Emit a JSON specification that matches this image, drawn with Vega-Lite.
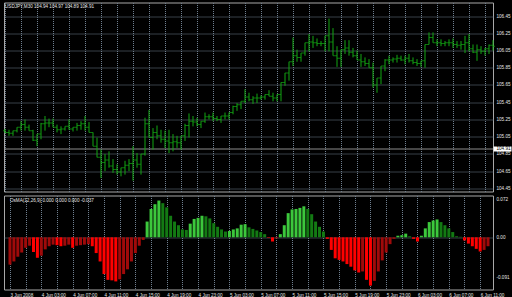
{
 "$schema": "https://vega.github.io/schema/vega-lite/v6.json",
 "background": "#000000",
 "padding": {"left": 2, "top": 1.5, "right": 0, "bottom": 0},
 "spacing": 2,
 "config": {
  "font": "Liberation Sans",
  "view": {"stroke": "#a8a8a8", "strokeWidth": 1},
  "axis": {"labelFont": "Liberation Sans", "labelFontSize": 4.6, "labelColor": "#e6e6e6", "domain": false, "ticks": false, "title": null, "gridColor": "#6f7f8f", "gridDash": [1, 1], "gridWidth": 1, "labelOverlap": false, "labelBound": false, "labelFlush": false, "tickCount": 1000}
 },
 "data": {"values": [
  {"t":"2008-06-03T23:00Z","o":105.12,"h":105.14,"l":105.09,"c":105.10,"v":-0.052,"s":"neg_rise"},
  {"t":"2008-06-03T23:30Z","o":105.10,"h":105.13,"l":105.06,"c":105.09,"v":-0.046,"s":"neg_rise"},
  {"t":"2008-06-04T00:00Z","o":105.09,"h":105.12,"l":105.06,"c":105.12,"v":-0.037,"s":"neg_rise"},
  {"t":"2008-06-04T00:30Z","o":105.12,"h":105.16,"l":105.10,"c":105.16,"v":-0.029,"s":"neg_rise"},
  {"t":"2008-06-04T01:00Z","o":105.16,"h":105.23,"l":105.12,"c":105.19,"v":-0.020,"s":"neg_rise"},
  {"t":"2008-06-04T01:30Z","o":105.19,"h":105.25,"l":105.12,"c":105.16,"v":-0.016,"s":"neg_rise"},
  {"t":"2008-06-04T02:00Z","o":105.16,"h":105.19,"l":105.12,"c":105.12,"v":-0.028,"s":"neg_fall"},
  {"t":"2008-06-04T02:30Z","o":105.12,"h":105.13,"l":105.00,"c":105.01,"v":-0.039,"s":"neg_fall"},
  {"t":"2008-06-04T03:00Z","o":105.01,"h":105.08,"l":104.94,"c":105.08,"v":-0.035,"s":"neg_rise"},
  {"t":"2008-06-04T03:30Z","o":105.08,"h":105.21,"l":105.02,"c":105.20,"v":-0.023,"s":"neg_rise"},
  {"t":"2008-06-04T04:00Z","o":105.20,"h":105.29,"l":105.12,"c":105.21,"v":-0.017,"s":"neg_rise"},
  {"t":"2008-06-04T04:30Z","o":105.21,"h":105.26,"l":105.16,"c":105.21,"v":-0.014,"s":"neg_rise"},
  {"t":"2008-06-04T05:00Z","o":105.21,"h":105.26,"l":105.16,"c":105.16,"v":-0.015,"s":"neg_fall"},
  {"t":"2008-06-04T05:30Z","o":105.16,"h":105.19,"l":105.10,"c":105.13,"v":-0.017,"s":"neg_fall"},
  {"t":"2008-06-04T06:00Z","o":105.13,"h":105.17,"l":105.08,"c":105.14,"v":-0.016,"s":"neg_rise"},
  {"t":"2008-06-04T06:30Z","o":105.14,"h":105.17,"l":105.12,"c":105.17,"v":-0.014,"s":"neg_rise"},
  {"t":"2008-06-04T07:00Z","o":105.17,"h":105.25,"l":105.13,"c":105.14,"v":-0.020,"s":"neg_fall"},
  {"t":"2008-06-04T07:30Z","o":105.14,"h":105.16,"l":105.11,"c":105.16,"v":-0.016,"s":"neg_rise"},
  {"t":"2008-06-04T08:00Z","o":105.16,"h":105.21,"l":105.12,"c":105.18,"v":-0.015,"s":"neg_rise"},
  {"t":"2008-06-04T08:30Z","o":105.18,"h":105.23,"l":105.13,"c":105.20,"v":-0.014,"s":"neg_rise"},
  {"t":"2008-06-04T09:00Z","o":105.20,"h":105.29,"l":105.12,"c":105.16,"v":-0.013,"s":"neg_rise"},
  {"t":"2008-06-04T09:30Z","o":105.16,"h":105.22,"l":105.10,"c":105.10,"v":-0.017,"s":"neg_fall"},
  {"t":"2008-06-04T10:00Z","o":105.10,"h":105.10,"l":104.94,"c":104.94,"v":-0.030,"s":"neg_fall"},
  {"t":"2008-06-04T10:30Z","o":104.94,"h":105.04,"l":104.81,"c":104.81,"v":-0.046,"s":"neg_fall"},
  {"t":"2008-06-04T11:00Z","o":104.81,"h":104.90,"l":104.57,"c":104.75,"v":-0.070,"s":"neg_fall"},
  {"t":"2008-06-04T11:30Z","o":104.75,"h":104.85,"l":104.65,"c":104.78,"v":-0.081,"s":"neg_fall"},
  {"t":"2008-06-04T12:00Z","o":104.78,"h":104.88,"l":104.69,"c":104.71,"v":-0.082,"s":"neg_fall"},
  {"t":"2008-06-04T12:30Z","o":104.71,"h":104.79,"l":104.63,"c":104.67,"v":-0.084,"s":"neg_fall"},
  {"t":"2008-06-04T13:00Z","o":104.67,"h":104.73,"l":104.61,"c":104.64,"v":-0.080,"s":"neg_rise"},
  {"t":"2008-06-04T13:30Z","o":104.64,"h":104.69,"l":104.59,"c":104.69,"v":-0.070,"s":"neg_rise"},
  {"t":"2008-06-04T14:00Z","o":104.69,"h":104.77,"l":104.61,"c":104.72,"v":-0.061,"s":"neg_rise"},
  {"t":"2008-06-04T14:30Z","o":104.72,"h":104.79,"l":104.65,"c":104.74,"v":-0.046,"s":"neg_rise"},
  {"t":"2008-06-04T15:00Z","o":104.74,"h":104.94,"l":104.54,"c":104.78,"v":-0.030,"s":"neg_rise"},
  {"t":"2008-06-04T15:30Z","o":104.78,"h":104.86,"l":104.69,"c":104.73,"v":-0.016,"s":"neg_rise"},
  {"t":"2008-06-04T16:00Z","o":104.73,"h":104.85,"l":104.61,"c":104.85,"v":-0.005,"s":"neg_rise"},
  {"t":"2008-06-04T16:30Z","o":104.85,"h":105.27,"l":104.83,"c":105.20,"v":0.030,"s":"pos_rise"},
  {"t":"2008-06-04T17:00Z","o":105.20,"h":105.36,"l":105.04,"c":105.04,"v":0.054,"s":"pos_rise"},
  {"t":"2008-06-04T17:30Z","o":105.04,"h":105.15,"l":104.90,"c":105.10,"v":0.063,"s":"pos_rise"},
  {"t":"2008-06-04T18:00Z","o":105.10,"h":105.18,"l":105.02,"c":105.06,"v":0.070,"s":"pos_rise"},
  {"t":"2008-06-04T18:30Z","o":105.06,"h":105.13,"l":104.98,"c":105.02,"v":0.065,"s":"pos_fall"},
  {"t":"2008-06-04T19:00Z","o":105.02,"h":105.12,"l":104.92,"c":105.00,"v":0.057,"s":"pos_fall"},
  {"t":"2008-06-04T19:30Z","o":105.00,"h":105.13,"l":104.86,"c":104.98,"v":0.041,"s":"pos_fall"},
  {"t":"2008-06-04T20:00Z","o":104.98,"h":105.08,"l":104.88,"c":104.99,"v":0.030,"s":"pos_fall"},
  {"t":"2008-06-04T20:30Z","o":104.99,"h":105.06,"l":104.92,"c":104.98,"v":0.023,"s":"pos_fall"},
  {"t":"2008-06-04T21:00Z","o":104.98,"h":105.06,"l":104.90,"c":105.06,"v":0.015,"s":"pos_fall"},
  {"t":"2008-06-04T21:30Z","o":105.06,"h":105.20,"l":105.00,"c":105.18,"v":0.014,"s":"pos_fall"},
  {"t":"2008-06-04T22:00Z","o":105.18,"h":105.32,"l":105.04,"c":105.23,"v":0.026,"s":"pos_rise"},
  {"t":"2008-06-04T22:30Z","o":105.23,"h":105.29,"l":105.17,"c":105.22,"v":0.035,"s":"pos_rise"},
  {"t":"2008-06-04T23:00Z","o":105.22,"h":105.27,"l":105.17,"c":105.19,"v":0.037,"s":"pos_rise"},
  {"t":"2008-06-04T23:30Z","o":105.19,"h":105.23,"l":105.15,"c":105.23,"v":0.041,"s":"pos_rise"},
  {"t":"2008-06-05T00:00Z","o":105.23,"h":105.33,"l":105.21,"c":105.28,"v":0.040,"s":"pos_fall"},
  {"t":"2008-06-05T00:30Z","o":105.28,"h":105.31,"l":105.25,"c":105.28,"v":0.036,"s":"pos_fall"},
  {"t":"2008-06-05T01:00Z","o":105.28,"h":105.33,"l":105.23,"c":105.26,"v":0.027,"s":"pos_fall"},
  {"t":"2008-06-05T01:30Z","o":105.26,"h":105.29,"l":105.23,"c":105.25,"v":0.020,"s":"pos_fall"},
  {"t":"2008-06-05T02:00Z","o":105.25,"h":105.29,"l":105.21,"c":105.29,"v":0.015,"s":"pos_fall"},
  {"t":"2008-06-05T02:30Z","o":105.29,"h":105.33,"l":105.25,"c":105.29,"v":0.011,"s":"pos_fall"},
  {"t":"2008-06-05T03:00Z","o":105.29,"h":105.33,"l":105.25,"c":105.33,"v":0.012,"s":"pos_rise"},
  {"t":"2008-06-05T03:30Z","o":105.33,"h":105.41,"l":105.31,"c":105.40,"v":0.015,"s":"pos_rise"},
  {"t":"2008-06-05T04:00Z","o":105.40,"h":105.44,"l":105.35,"c":105.42,"v":0.017,"s":"pos_rise"},
  {"t":"2008-06-05T04:30Z","o":105.42,"h":105.46,"l":105.37,"c":105.46,"v":0.024,"s":"pos_rise"},
  {"t":"2008-06-05T05:00Z","o":105.46,"h":105.60,"l":105.44,"c":105.51,"v":0.025,"s":"pos_rise"},
  {"t":"2008-06-05T05:30Z","o":105.51,"h":105.56,"l":105.46,"c":105.48,"v":0.019,"s":"pos_fall"},
  {"t":"2008-06-05T06:00Z","o":105.48,"h":105.52,"l":105.43,"c":105.50,"v":0.016,"s":"pos_fall"},
  {"t":"2008-06-05T06:30Z","o":105.50,"h":105.55,"l":105.44,"c":105.50,"v":0.013,"s":"pos_fall"},
  {"t":"2008-06-05T07:00Z","o":105.50,"h":105.53,"l":105.48,"c":105.51,"v":0.010,"s":"pos_fall"},
  {"t":"2008-06-05T07:30Z","o":105.51,"h":105.54,"l":105.48,"c":105.54,"v":0.006,"s":"pos_fall"},
  {"t":"2008-06-05T08:00Z","o":105.54,"h":105.59,"l":105.52,"c":105.52,"v":-0.001,"s":"neg_fall"},
  {"t":"2008-06-05T08:30Z","o":105.52,"h":105.56,"l":105.46,"c":105.50,"v":-0.008,"s":"neg_fall"},
  {"t":"2008-06-05T09:00Z","o":105.50,"h":105.54,"l":105.46,"c":105.54,"v":-0.002,"s":"neg_rise"},
  {"t":"2008-06-05T09:30Z","o":105.54,"h":105.68,"l":105.46,"c":105.68,"v":0.006,"s":"pos_rise"},
  {"t":"2008-06-05T10:00Z","o":105.68,"h":105.79,"l":105.64,"c":105.79,"v":0.023,"s":"pos_rise"},
  {"t":"2008-06-05T10:30Z","o":105.79,"h":105.92,"l":105.70,"c":105.92,"v":0.046,"s":"pos_rise"},
  {"t":"2008-06-05T11:00Z","o":105.92,"h":106.20,"l":105.87,"c":105.99,"v":0.053,"s":"pos_rise"},
  {"t":"2008-06-05T11:30Z","o":105.99,"h":106.06,"l":105.92,"c":105.97,"v":0.054,"s":"pos_rise"},
  {"t":"2008-06-05T12:00Z","o":105.97,"h":106.02,"l":105.92,"c":106.02,"v":0.056,"s":"pos_rise"},
  {"t":"2008-06-05T12:30Z","o":106.02,"h":106.14,"l":105.99,"c":106.14,"v":0.059,"s":"pos_rise"},
  {"t":"2008-06-05T13:00Z","o":106.14,"h":106.24,"l":106.04,"c":106.15,"v":0.054,"s":"pos_fall"},
  {"t":"2008-06-05T13:30Z","o":106.15,"h":106.22,"l":106.08,"c":106.14,"v":0.044,"s":"pos_fall"},
  {"t":"2008-06-05T14:00Z","o":106.14,"h":106.19,"l":106.10,"c":106.13,"v":0.030,"s":"pos_fall"},
  {"t":"2008-06-05T14:30Z","o":106.13,"h":106.16,"l":106.10,"c":106.13,"v":0.020,"s":"pos_fall"},
  {"t":"2008-06-05T15:00Z","o":106.13,"h":106.22,"l":106.04,"c":106.22,"v":0.011,"s":"pos_fall"},
  {"t":"2008-06-05T15:30Z","o":106.22,"h":106.42,"l":106.04,"c":106.15,"v":-0.003,"s":"neg_fall"},
  {"t":"2008-06-05T16:00Z","o":106.15,"h":106.31,"l":105.99,"c":105.99,"v":-0.024,"s":"neg_fall"},
  {"t":"2008-06-05T16:30Z","o":105.99,"h":106.10,"l":105.86,"c":105.96,"v":-0.040,"s":"neg_fall"},
  {"t":"2008-06-05T17:00Z","o":105.96,"h":106.06,"l":105.86,"c":106.06,"v":-0.043,"s":"neg_fall"},
  {"t":"2008-06-05T17:30Z","o":106.06,"h":106.17,"l":106.01,"c":106.08,"v":-0.046,"s":"neg_fall"},
  {"t":"2008-06-05T18:00Z","o":106.08,"h":106.17,"l":105.99,"c":106.03,"v":-0.051,"s":"neg_fall"},
  {"t":"2008-06-05T18:30Z","o":106.03,"h":106.08,"l":105.97,"c":105.99,"v":-0.056,"s":"neg_fall"},
  {"t":"2008-06-05T19:00Z","o":105.99,"h":106.05,"l":105.94,"c":105.94,"v":-0.063,"s":"neg_fall"},
  {"t":"2008-06-05T19:30Z","o":105.94,"h":106.01,"l":105.86,"c":105.92,"v":-0.067,"s":"neg_fall"},
  {"t":"2008-06-05T20:00Z","o":105.92,"h":105.97,"l":105.87,"c":105.90,"v":-0.065,"s":"neg_rise"},
  {"t":"2008-06-05T20:30Z","o":105.90,"h":105.95,"l":105.85,"c":105.85,"v":-0.081,"s":"neg_fall"},
  {"t":"2008-06-05T21:00Z","o":105.85,"h":105.91,"l":105.62,"c":105.65,"v":-0.092,"s":"neg_fall"},
  {"t":"2008-06-05T21:30Z","o":105.65,"h":105.73,"l":105.56,"c":105.73,"v":-0.083,"s":"neg_rise"},
  {"t":"2008-06-05T22:00Z","o":105.73,"h":105.87,"l":105.66,"c":105.87,"v":-0.065,"s":"neg_rise"},
  {"t":"2008-06-05T22:30Z","o":105.87,"h":105.95,"l":105.81,"c":105.94,"v":-0.044,"s":"neg_rise"},
  {"t":"2008-06-05T23:00Z","o":105.94,"h":105.99,"l":105.89,"c":105.94,"v":-0.029,"s":"neg_rise"},
  {"t":"2008-06-05T23:30Z","o":105.94,"h":105.97,"l":105.91,"c":105.95,"v":-0.013,"s":"neg_rise"},
  {"t":"2008-06-06T00:00Z","o":105.95,"h":106.00,"l":105.91,"c":105.96,"v":-0.003,"s":"neg_rise"},
  {"t":"2008-06-06T00:30Z","o":105.96,"h":105.99,"l":105.93,"c":105.94,"v":0.003,"s":"pos_rise"},
  {"t":"2008-06-06T01:00Z","o":105.94,"h":105.99,"l":105.89,"c":105.96,"v":0.004,"s":"pos_rise"},
  {"t":"2008-06-06T01:30Z","o":105.96,"h":106.01,"l":105.91,"c":105.93,"v":0.007,"s":"pos_rise"},
  {"t":"2008-06-06T02:00Z","o":105.93,"h":105.97,"l":105.89,"c":105.91,"v":0.002,"s":"pos_fall"},
  {"t":"2008-06-06T02:30Z","o":105.91,"h":105.95,"l":105.87,"c":105.90,"v":-0.003,"s":"neg_fall"},
  {"t":"2008-06-06T03:00Z","o":105.90,"h":105.93,"l":105.86,"c":105.93,"v":-0.008,"s":"neg_fall"},
  {"t":"2008-06-06T03:30Z","o":105.93,"h":106.12,"l":105.85,"c":106.12,"v":0.003,"s":"pos_rise"},
  {"t":"2008-06-06T04:00Z","o":106.12,"h":106.26,"l":106.12,"c":106.20,"v":0.017,"s":"pos_rise"},
  {"t":"2008-06-06T04:30Z","o":106.20,"h":106.26,"l":106.14,"c":106.14,"v":0.029,"s":"pos_rise"},
  {"t":"2008-06-06T05:00Z","o":106.14,"h":106.18,"l":106.10,"c":106.14,"v":0.032,"s":"pos_rise"},
  {"t":"2008-06-06T05:30Z","o":106.14,"h":106.18,"l":106.10,"c":106.13,"v":0.034,"s":"pos_rise"},
  {"t":"2008-06-06T06:00Z","o":106.13,"h":106.16,"l":106.10,"c":106.14,"v":0.029,"s":"pos_fall"},
  {"t":"2008-06-06T06:30Z","o":106.14,"h":106.18,"l":106.10,"c":106.14,"v":0.023,"s":"pos_fall"},
  {"t":"2008-06-06T07:00Z","o":106.14,"h":106.19,"l":106.08,"c":106.12,"v":0.017,"s":"pos_fall"},
  {"t":"2008-06-06T07:30Z","o":106.12,"h":106.16,"l":106.08,"c":106.11,"v":0.010,"s":"pos_fall"},
  {"t":"2008-06-06T08:00Z","o":106.11,"h":106.16,"l":106.06,"c":106.12,"v":0.002,"s":"pos_fall"},
  {"t":"2008-06-06T08:30Z","o":106.12,"h":106.22,"l":106.02,"c":106.14,"v":0.001,"s":"pos_fall"},
  {"t":"2008-06-06T09:00Z","o":106.14,"h":106.24,"l":106.04,"c":106.07,"v":-0.006,"s":"neg_fall"},
  {"t":"2008-06-06T09:30Z","o":106.07,"h":106.12,"l":106.02,"c":106.03,"v":-0.012,"s":"neg_fall"},
  {"t":"2008-06-06T10:00Z","o":106.03,"h":106.12,"l":105.93,"c":106.06,"v":-0.017,"s":"neg_fall"},
  {"t":"2008-06-06T10:30Z","o":106.06,"h":106.10,"l":106.01,"c":106.04,"v":-0.022,"s":"neg_fall"},
  {"t":"2008-06-06T11:00Z","o":106.04,"h":106.08,"l":105.99,"c":106.07,"v":-0.027,"s":"neg_fall"},
  {"t":"2008-06-06T11:30Z","o":106.07,"h":106.12,"l":106.01,"c":106.11,"v":-0.024,"s":"neg_rise"},
  {"t":"2008-06-06T12:00Z","o":106.11,"h":106.17,"l":106.05,"c":106.10,"v":-0.017,"s":"neg_rise"}
 ]},
 "vconcat": [
  {
   "width": 489,
   "height": 189,
   "layer": [
    {
     "mark": {"type": "rule", "color": "#12a612", "strokeWidth": 1},
     "encoding": {
      "x": {"field": "t", "type": "temporal",
       "scale": {"type": "utc", "domain": [{"year": 2008, "month": 6, "date": 3, "hours": 22, "minutes": 52, "seconds": 30, "utc": true}, {"year": 2008, "month": 6, "date": 6, "hours": 12, "utc": true}]},
       "axis": {"grid": true, "labels": false, "ticks": false, "domain": false, "tickCount": 1000,
        "values": [
         {"year":2008,"month":6,"date":3,"hours":23,"utc":true},
         {"year":2008,"month":6,"date":4,"hours":1,"utc":true},{"year":2008,"month":6,"date":4,"hours":3,"utc":true},{"year":2008,"month":6,"date":4,"hours":5,"utc":true},{"year":2008,"month":6,"date":4,"hours":7,"utc":true},{"year":2008,"month":6,"date":4,"hours":9,"utc":true},{"year":2008,"month":6,"date":4,"hours":11,"utc":true},{"year":2008,"month":6,"date":4,"hours":13,"utc":true},{"year":2008,"month":6,"date":4,"hours":15,"utc":true},{"year":2008,"month":6,"date":4,"hours":17,"utc":true},{"year":2008,"month":6,"date":4,"hours":19,"utc":true},{"year":2008,"month":6,"date":4,"hours":21,"utc":true},{"year":2008,"month":6,"date":4,"hours":23,"utc":true},
         {"year":2008,"month":6,"date":5,"hours":1,"utc":true},{"year":2008,"month":6,"date":5,"hours":3,"utc":true},{"year":2008,"month":6,"date":5,"hours":5,"utc":true},{"year":2008,"month":6,"date":5,"hours":7,"utc":true},{"year":2008,"month":6,"date":5,"hours":9,"utc":true},{"year":2008,"month":6,"date":5,"hours":11,"utc":true},{"year":2008,"month":6,"date":5,"hours":13,"utc":true},{"year":2008,"month":6,"date":5,"hours":15,"utc":true},{"year":2008,"month":6,"date":5,"hours":17,"utc":true},{"year":2008,"month":6,"date":5,"hours":19,"utc":true},{"year":2008,"month":6,"date":5,"hours":21,"utc":true},{"year":2008,"month":6,"date":5,"hours":23,"utc":true},
         {"year":2008,"month":6,"date":6,"hours":1,"utc":true},{"year":2008,"month":6,"date":6,"hours":3,"utc":true},{"year":2008,"month":6,"date":6,"hours":5,"utc":true},{"year":2008,"month":6,"date":6,"hours":7,"utc":true},{"year":2008,"month":6,"date":6,"hours":9,"utc":true},{"year":2008,"month":6,"date":6,"hours":11,"utc":true}
        ]}
      },
      "y": {"field": "l", "type": "quantitative",
       "scale": {"domain": [104.414, 106.607], "zero": false, "nice": false},
       "axis": {"orient": "right", "tickCount": 1000,
        "values": [104.45, 104.65, 104.85, 104.91, 105.05, 105.25, 105.45, 105.65, 105.85, 106.05, 106.25, 106.45],
        "labelExpr": "format(datum.value, '.2f')",
        "grid": true,
        "gridDash": {"condition": {"test": "datum.value == 104.91", "value": []}, "value": [1, 1]},
        "gridColor": {"condition": {"test": "datum.value == 104.91", "value": "#8c8c8c"}, "value": "#6f7f8f"},
        "ticks": true,
        "tickSize": 18,
        "tickWidth": {"condition": {"test": "datum.value == 104.91", "value": 5}, "value": 0},
        "tickColor": {"condition": {"test": "datum.value == 104.91", "value": "#ffffff"}, "value": "transparent"},
        "labelPadding": -15,
        "labelColor": {"condition": {"test": "datum.value == 104.91", "value": "#000000"}, "value": "#e6e6e6"}
       }},
      "y2": {"field": "h"}
     }
    },
    {
     "mark": {"type": "tick", "orient": "horizontal", "color": "#12a612", "size": 2, "thickness": 1, "xOffset": -1},
     "encoding": {"x": {"field": "t", "type": "temporal"}, "y": {"field": "o", "type": "quantitative"}}
    },
    {
     "mark": {"type": "tick", "orient": "horizontal", "color": "#12a612", "size": 2, "thickness": 1, "xOffset": 1},
     "encoding": {"x": {"field": "t", "type": "temporal"}, "y": {"field": "c", "type": "quantitative"}}
    },
    {
     "data": {"values": [{"label": "USDJPY,M30  104.94 104.97 104.89 104.91"}]},
     "mark": {"type": "text", "align": "left", "baseline": "top", "color": "#e6e6e6", "fontSize": 4.6, "font": "Liberation Sans", "dx": 1, "dy": 1},
     "encoding": {
      "x": {"datum": {"year": 2008, "month": 6, "date": 3, "hours": 22, "minutes": 52, "seconds": 30, "utc": true}, "type": "temporal"},
      "y": {"datum": 106.607, "type": "quantitative"},
      "text": {"field": "label"}
     }
    }
   ]
  },
  {
   "width": 489,
   "height": 94,
   "layer": [
    {
     "mark": {"type": "bar", "width": 3},
     "encoding": {
      "x": {"field": "t", "type": "temporal",
       "scale": {"type": "utc", "domain": [{"year": 2008, "month": 6, "date": 3, "hours": 22, "minutes": 52, "seconds": 30, "utc": true}, {"year": 2008, "month": 6, "date": 6, "hours": 12, "utc": true}]},
       "axis": {"grid": true, "ticks": false, "domain": false, "tickCount": 1000,
        "labelAlign": "left", "labelBaseline": "top", "labelPadding": 3,
        "labelExpr": "utchours(datum.value) % 4 != 3 ? '' : (utcdate(datum.value) == 3 ? utcFormat(datum.value, '%-d %b %Y') : utcFormat(datum.value, '%-d %b %H:%M'))",
        "values": [
         {"year":2008,"month":6,"date":3,"hours":23,"utc":true},
         {"year":2008,"month":6,"date":4,"hours":1,"utc":true},{"year":2008,"month":6,"date":4,"hours":3,"utc":true},{"year":2008,"month":6,"date":4,"hours":5,"utc":true},{"year":2008,"month":6,"date":4,"hours":7,"utc":true},{"year":2008,"month":6,"date":4,"hours":9,"utc":true},{"year":2008,"month":6,"date":4,"hours":11,"utc":true},{"year":2008,"month":6,"date":4,"hours":13,"utc":true},{"year":2008,"month":6,"date":4,"hours":15,"utc":true},{"year":2008,"month":6,"date":4,"hours":17,"utc":true},{"year":2008,"month":6,"date":4,"hours":19,"utc":true},{"year":2008,"month":6,"date":4,"hours":21,"utc":true},{"year":2008,"month":6,"date":4,"hours":23,"utc":true},
         {"year":2008,"month":6,"date":5,"hours":1,"utc":true},{"year":2008,"month":6,"date":5,"hours":3,"utc":true},{"year":2008,"month":6,"date":5,"hours":5,"utc":true},{"year":2008,"month":6,"date":5,"hours":7,"utc":true},{"year":2008,"month":6,"date":5,"hours":9,"utc":true},{"year":2008,"month":6,"date":5,"hours":11,"utc":true},{"year":2008,"month":6,"date":5,"hours":13,"utc":true},{"year":2008,"month":6,"date":5,"hours":15,"utc":true},{"year":2008,"month":6,"date":5,"hours":17,"utc":true},{"year":2008,"month":6,"date":5,"hours":19,"utc":true},{"year":2008,"month":6,"date":5,"hours":21,"utc":true},{"year":2008,"month":6,"date":5,"hours":23,"utc":true},
         {"year":2008,"month":6,"date":6,"hours":1,"utc":true},{"year":2008,"month":6,"date":6,"hours":3,"utc":true},{"year":2008,"month":6,"date":6,"hours":5,"utc":true},{"year":2008,"month":6,"date":6,"hours":7,"utc":true},{"year":2008,"month":6,"date":6,"hours":9,"utc":true},{"year":2008,"month":6,"date":6,"hours":11,"utc":true}
        ]}
      },
      "y": {"field": "v", "type": "quantitative",
       "scale": {"domain": [-0.0994, 0.0796], "zero": false, "nice": false},
       "axis": {"orient": "right", "values": [0.072, 0, -0.091], "tickCount": 1000,
        "labelExpr": "datum.value == 0 ? '0.00' : replace(format(datum.value, '.3f'), '\u2212', '-')",
        "grid": true,
        "gridOpacity": {"condition": {"test": "datum.value == 0", "value": 1}, "value": 0},
        "labelOffset": {"condition": {"test": "datum.value < 0", "value": -8}, "value": 0},
        "labelPadding": 3}
      },
      "color": {"field": "s", "type": "nominal",
       "scale": {"domain": ["pos_rise", "pos_fall", "neg_fall", "neg_rise"], "range": ["#3cc83c", "#137a13", "#ff0000", "#a00a0a"]},
       "legend": null}
     }
    },
    {
     "data": {"values": [{"label": "OsMA(12,26,9) 0.000 0.000 0.000 -0.037"}]},
     "mark": {"type": "text", "align": "left", "baseline": "top", "color": "#e6e6e6", "fontSize": 4.6, "font": "Liberation Sans", "dx": 1, "dy": 2},
     "encoding": {
      "x": {"datum": {"year": 2008, "month": 6, "date": 3, "hours": 22, "minutes": 52, "seconds": 30, "utc": true}, "type": "temporal"},
      "y": {"datum": 0.0796, "type": "quantitative"},
      "text": {"field": "label"}
     }
    }
   ]
  }
 ]
}
